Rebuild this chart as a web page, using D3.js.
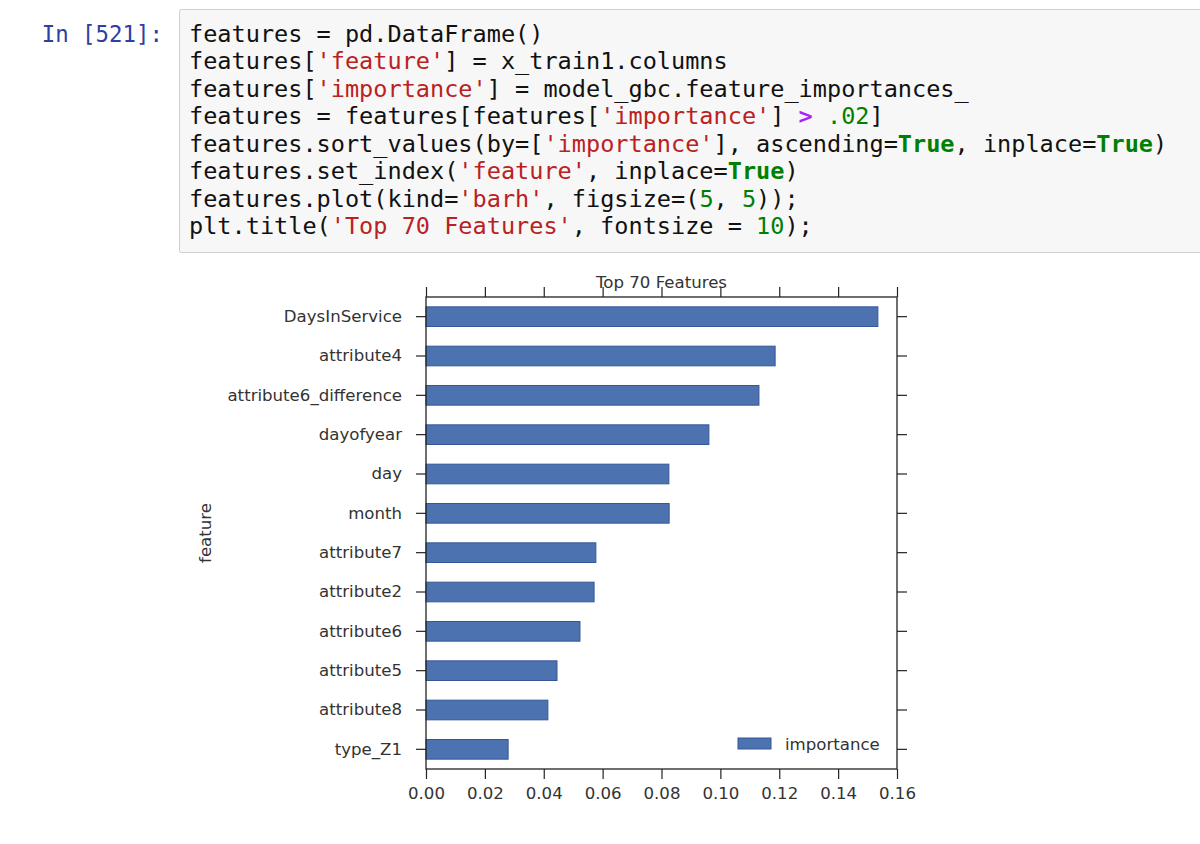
<!DOCTYPE html>
<html>
<head>
<meta charset="utf-8">
<script src="https://cdn.jsdelivr.net/npm/d3@7"></script>
<style>
  html, body { margin: 0; padding: 0; background: #ffffff; }
  svg { display: block; }
</style>
</head>
<body>
<svg id="chart" width="1200" height="844"></svg>
<script>
// ---- data ----
const features = ["DaysInService", "attribute4", "attribute6_difference", "dayofyear", "day", "month",
                  "attribute7", "attribute2", "attribute6", "attribute5", "attribute8", "type_Z1"];
const importance = [0.1535, 0.1186, 0.1131, 0.0961, 0.0825, 0.0826,
                    0.0577, 0.0571, 0.0523, 0.0445, 0.0414, 0.0279];
const xTicks = [0.00, 0.02, 0.04, 0.06, 0.08, 0.10, 0.12, 0.14, 0.16];
const chartTitle = "Top 70 Features";
const yLabel = "feature";
const legendLabel = "importance";

// code cell content: arrays of [text, style] tokens per line
const promptText = "In [521]:";
const codeLines = [
  [["features = pd.DataFrame()", "t"]],
  [["features[", "t"], ["'feature'", "s"], ["] = x_train1.columns", "t"]],
  [["features[", "t"], ["'importance'", "s"], ["] = model_gbc.feature_importances_", "t"]],
  [["features = features[features[", "t"], ["'importance'", "s"], ["] ", "t"], [">", "o"], [" ", "t"], [".02", "n"], ["]", "t"]],
  [["features.sort_values(by=[", "t"], ["'importance'", "s"], ["], ascending=", "t"], ["True", "k"], [", inplace=", "t"], ["True", "k"], [")", "t"]],
  [["features.set_index(", "t"], ["'feature'", "s"], [", inplace=", "t"], ["True", "k"], [")", "t"]],
  [["features.plot(kind=", "t"], ["'barh'", "s"], [", figsize=(", "t"], ["5", "n"], [", ", "t"], ["5", "n"], ["));", "t"]],
  [["plt.title(", "t"], ["'Top 70 Features'", "s"], [", fontsize = ", "t"], ["10", "n"], [");", "t"]]
];

// ---- drawing ----
const svg = d3.select("#chart");

// notebook cell
svg.append("rect")
  .attr("x", 179.5).attr("y", 9.5).attr("width", 1030).attr("height", 243)
  .attr("rx", 2).attr("fill", "#f7f7f7").attr("stroke", "#cfcfcf").attr("stroke-width", 1);

const monoFont = "'DejaVu Sans Mono', 'Liberation Mono', monospace";
svg.append("text")
  .attr("x", 163).attr("y", 42)
  .attr("text-anchor", "end")
  .attr("font-family", monoFont).attr("font-size", 22.4)
  .attr("fill", "#303F9F")
  .text(promptText);

const styleMap = {
  t: { fill: "#111111", weight: "normal" },
  s: { fill: "#BA2121", weight: "normal" },
  n: { fill: "#008000", weight: "normal" },
  k: { fill: "#008000", weight: "bold" },
  o: { fill: "#AA22FF", weight: "bold" }
};
const lineY = d3.scaleLinear().domain([0, codeLines.length - 1]).range([42, 234]);
codeLines.forEach((tokens, i) => {
  const t = svg.append("text")
    .attr("x", 189).attr("y", lineY(i))
    .attr("font-family", monoFont).attr("font-size", 23.55)
    .attr("xml:space", "preserve")
    .style("white-space", "pre");
  tokens.forEach(([txt, st]) => {
    t.append("tspan")
      .attr("fill", styleMap[st].fill)
      .attr("font-weight", styleMap[st].weight)
      .text(txt);
  });
});

// chart
const plot = { left: 426, right: 897, top: 297, bottom: 769 };
const x = d3.scaleLinear().domain([0, 0.16]).range([plot.left, plot.right]);
const y = d3.scaleBand().domain(features).range([plot.top, plot.bottom]).paddingInner(0.5).paddingOuter(0.25);

const sansFont = "'DejaVu Sans', 'Bitstream Vera Sans', sans-serif";
const textColor = "#333333";
const fs = 16.6;

// bars
svg.append("g").selectAll("rect")
  .data(features)
  .join("rect")
  .attr("x", x(0))
  .attr("y", d => y(d))
  .attr("width", (d, i) => x(importance[i]) - x(0))
  .attr("height", y.bandwidth())
  .attr("fill", "#4c72b0")
  .attr("stroke", "#35579a")
  .attr("stroke-width", 1);

// axes
const tickLen = 10;
const bottomAxis = d3.axisBottom(x).tickValues(xTicks).tickFormat(d3.format(".2f")).tickSizeInner(tickLen).tickSizeOuter(0).tickPadding(8);
const topAxis = d3.axisTop(x).tickValues(xTicks).tickFormat("").tickSizeInner(tickLen).tickSizeOuter(0);
const leftAxis = d3.axisLeft(y).tickSizeInner(tickLen).tickSizeOuter(0).tickPadding(14);
const rightAxis = d3.axisRight(y).tickFormat("").tickSizeInner(tickLen).tickSizeOuter(0);

function styleAxis(g) {
  g.select(".domain").remove();
  g.selectAll(".tick line").attr("stroke", "#222").attr("stroke-width", 1.2);
  g.selectAll(".tick text").attr("fill", textColor).attr("font-family", sansFont).attr("font-size", fs);
}

svg.append("g").attr("transform", `translate(0,${plot.bottom})`).call(bottomAxis).call(styleAxis);
svg.append("g").attr("transform", `translate(0,${plot.top})`).call(topAxis).call(styleAxis);
svg.append("g").attr("transform", `translate(${plot.left},0)`).call(leftAxis).call(styleAxis);
svg.append("g").attr("transform", `translate(${plot.right},0)`).call(rightAxis).call(styleAxis);

// frame
svg.append("rect")
  .attr("x", plot.left).attr("y", plot.top)
  .attr("width", plot.right - plot.left).attr("height", plot.bottom - plot.top)
  .attr("fill", "none").attr("stroke", "#222").attr("stroke-width", 1.3);

// title
svg.append("text")
  .attr("x", (plot.left + plot.right) / 2).attr("y", 288)
  .attr("text-anchor", "middle")
  .attr("font-family", sansFont).attr("font-size", fs).attr("fill", textColor)
  .text(chartTitle);

// y label
svg.append("text")
  .attr("transform", `translate(211,${(plot.top + plot.bottom) / 2}) rotate(-90)`)
  .attr("text-anchor", "middle")
  .attr("font-family", sansFont).attr("font-size", fs).attr("fill", textColor)
  .text(yLabel);

// legend
const lg = svg.append("g").attr("transform", "translate(738,738)");
lg.append("rect").attr("width", 33).attr("height", 11)
  .attr("fill", "#4c72b0").attr("stroke", "#35579a").attr("stroke-width", 1);
lg.append("text").attr("x", 47).attr("y", 12)
  .attr("font-family", sansFont).attr("font-size", fs).attr("fill", textColor)
  .text(legendLabel);
</script>
</body>
</html>
